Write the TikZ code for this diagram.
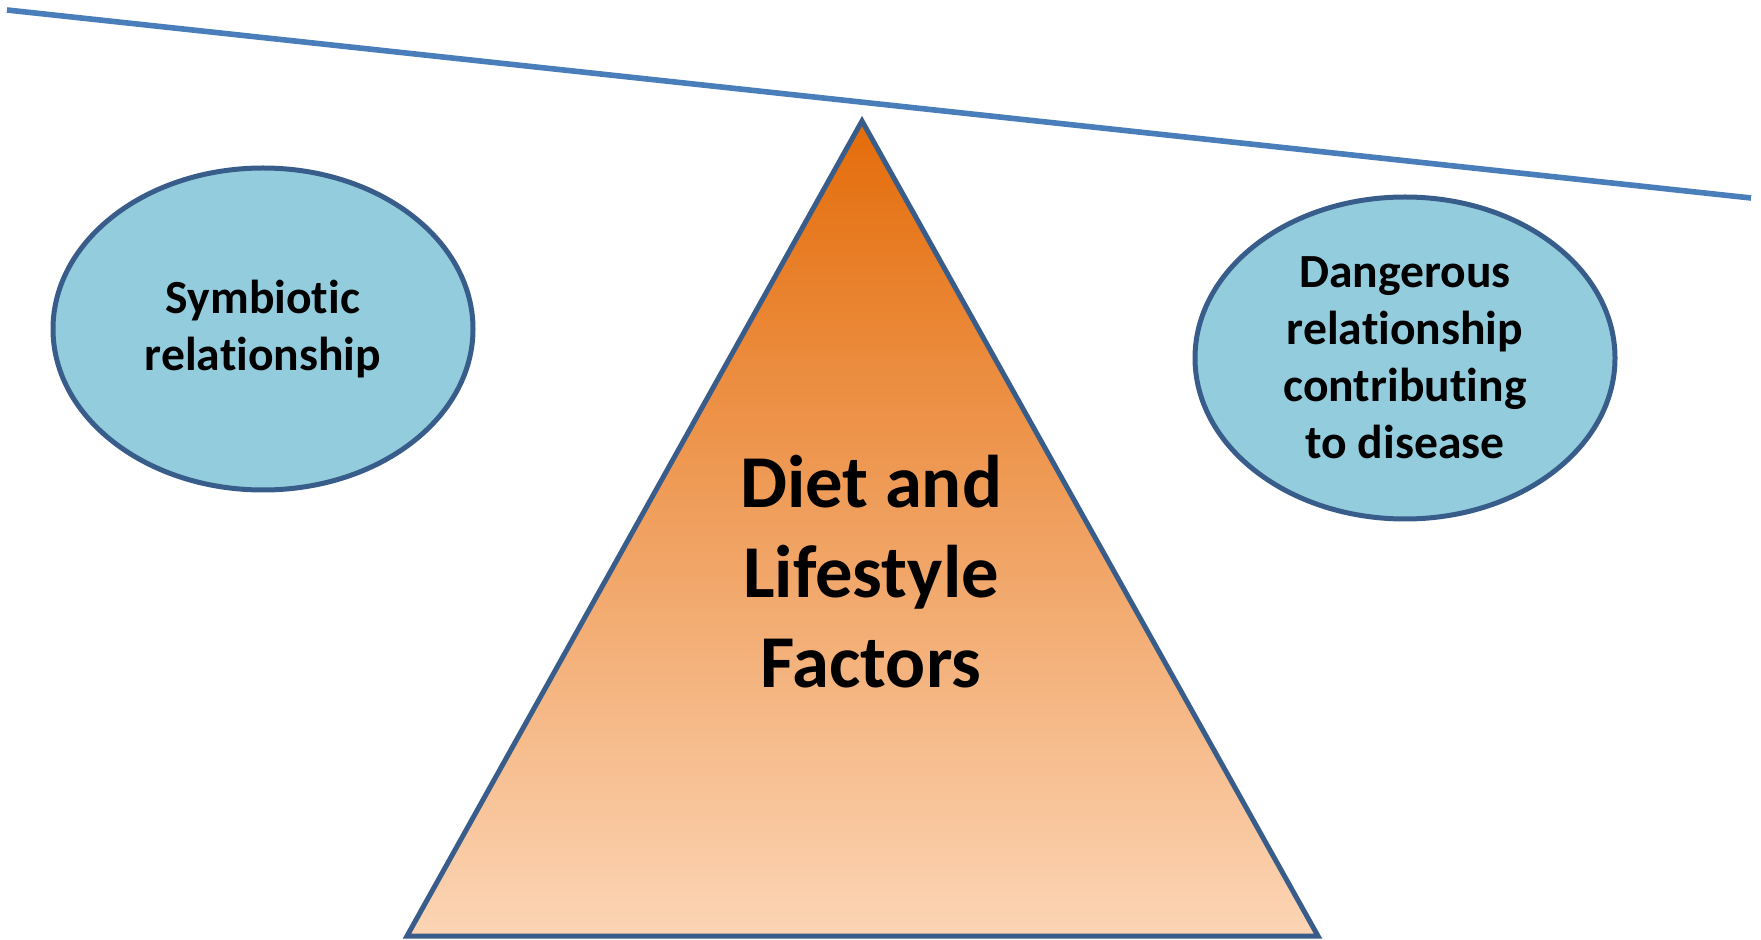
\documentclass[tikz,border=0pt]{standalone}
\usepackage{fontspec}
\setmainfont{Carlito}
\usepackage{xcolor}
\usepackage{tikz}
\usetikzlibrary{shapes.geometric,positioning}
\definecolor{beam}{HTML}{4A7EBB}
\definecolor{edge}{HTML}{385D8A}
\definecolor{bubble}{HTML}{93CDDD}
\definecolor{ortop}{HTML}{E46C0A}
\definecolor{ormid}{HTML}{F6BA8A}
\definecolor{orbot}{HTML}{FCD5B5}
\newcommand\nolig{\kern0pt}
\tikzset{
  beamline/.style={draw=beam, line width=2.8pt},
  blob/.style={ellipse, draw=edge, fill=bubble, line width=2.5pt, inner sep=0pt,
    minimum width=210pt, minimum height=161pt, align=center, text=black,
    font=\fontsize{23.8}{28.5}\selectfont\bfseries},
  tri/.style={draw=edge, line width=2.5pt, line join=miter,
    top color=ortop, middle color=ormid, bottom color=orbot},
  trilab/.style={align=center, text=black, inner sep=0pt,
    font=\fontsize{37.3}{45}\selectfont\bfseries},
}

\begin{document}
\begin{tikzpicture}[x=0.5pt, y=-0.5pt]
\useasboundingbox (0,0) rectangle (1761,940);

% beam
\coordinate (beamL) at (7,10);
\coordinate (beamR) at (1751,198);
\draw[beamline] (beamL) -- (beamR);

% fulcrum
\coordinate (apex) at (862,121);
\coordinate (baseL) at (407,936);
\coordinate (baseR) at (1318,936);
\path[tri] (apex) -- (baseR) -- (baseL) -- cycle;
\node[trilab] (dlf) at (871,572) {Diet and\\Lifestyle\\Factors};

% the two sides
\node[blob] (symb) at (263,329) {Symbiot\nolig ic\\relat\nolig ionship};
\node[blob] (dang) at (1405,358) {Dangerous\\relat\nolig ionship\\contribut\nolig ing\\to disease};
\end{tikzpicture}
\end{document}
